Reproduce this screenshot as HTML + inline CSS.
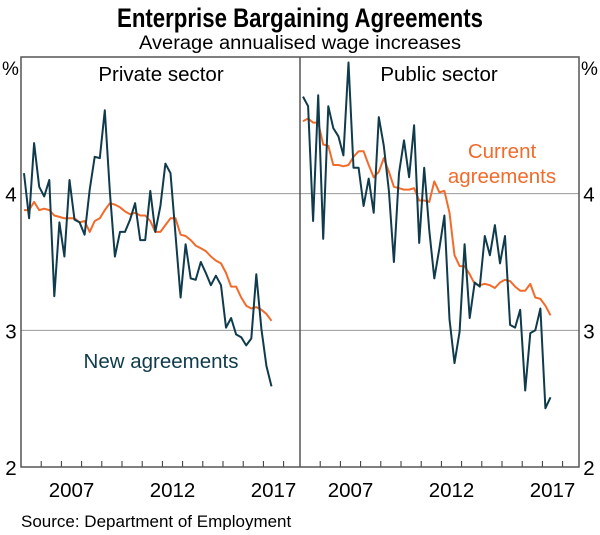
<!DOCTYPE html>
<html><head><meta charset="utf-8"><style>
body{margin:0;background:#fff;width:600px;height:530px;overflow:hidden;font-family:"Liberation Sans",sans-serif}
svg text{font-family:"Liberation Sans",sans-serif}
</style></head><body>
<svg id="chart" width="600" height="530">
<text x="300" y="27" text-anchor="middle" font-size="27" font-weight="bold" fill="#000" textLength="366" lengthAdjust="spacingAndGlyphs">Enterprise Bargaining Agreements</text>
<text x="300" y="49" text-anchor="middle" font-size="19" fill="#000" textLength="322" lengthAdjust="spacingAndGlyphs">Average annualised wage increases</text>
<text x="2" y="75" font-size="19">%</text>
<text x="581" y="75" font-size="19">%</text>
<g id="grid"></g>
<g id="ticks"></g>
<g id="series"></g>
<rect x="21" y="57" width="558" height="410" fill="none" stroke="#555" stroke-width="1.5"/>
<line x1="300" y1="57" x2="300" y2="467" stroke="#555" stroke-width="1.5"/>
<text x="161" y="81" text-anchor="middle" font-size="20.5">Private sector</text>
<text x="439" y="81" text-anchor="middle" font-size="20.5">Public sector</text>
<text x="161" y="368" text-anchor="middle" font-size="20.5" fill="#0f3b4c">New agreements</text>
<text x="502" y="158" text-anchor="middle" font-size="20.5" fill="#f26b2b">Current</text>
<text x="502" y="183" text-anchor="middle" font-size="20.5" fill="#f26b2b">agreements</text>
<text x="21" y="527" font-size="17">Source:   Department of Employment</text>
</svg>
<script>
const startYear = 2005.15;
const privateNew = [4.15,3.82,4.37,4.05,3.98,4.10,3.25,3.79,3.54,4.10,3.81,3.79,3.70,4.03,4.27,4.26,4.61,4.01,3.54,3.72,3.72,3.81,3.93,3.66,3.66,4.02,3.72,3.91,4.22,4.15,3.70,3.24,3.63,3.38,3.37,3.50,3.42,3.33,3.40,3.33,3.02,3.09,2.97,2.95,2.89,2.94,3.41,3.01,2.74,2.59];
const privateCurrent = [3.88,3.88,3.94,3.88,3.89,3.88,3.84,3.83,3.82,3.82,3.82,3.79,3.80,3.72,3.80,3.82,3.88,3.93,3.92,3.90,3.87,3.85,3.86,3.84,3.84,3.80,3.72,3.72,3.77,3.82,3.82,3.70,3.69,3.66,3.62,3.60,3.58,3.54,3.51,3.49,3.42,3.32,3.32,3.24,3.18,3.16,3.17,3.15,3.12,3.07];
const publicNew = [4.71,4.64,3.80,4.72,3.67,4.64,4.48,4.42,4.28,4.96,4.19,4.19,3.91,4.11,3.86,4.56,4.35,4.02,3.50,4.15,4.39,4.12,4.50,3.64,4.19,3.73,3.38,3.60,3.84,3.08,2.76,2.99,3.63,3.09,3.35,3.32,3.69,3.55,3.77,3.49,3.69,3.04,3.02,3.15,2.56,2.98,3.00,3.16,2.43,2.51];
const publicCurrent = [4.53,4.55,4.52,4.52,4.36,4.35,4.21,4.21,4.20,4.21,4.27,4.31,4.31,4.21,4.12,4.16,4.26,4.16,4.05,4.04,4.03,4.03,4.04,3.95,3.95,3.94,4.09,4.01,4.02,3.86,3.55,3.47,3.47,3.41,3.34,3.33,3.34,3.33,3.31,3.35,3.37,3.36,3.32,3.29,3.29,3.34,3.24,3.23,3.18,3.11];
const yTicks = [2,3,4];
const gridValues = [3,4];
const xTickYears = [2006,2007,2008,2009,2010,2011,2012,2013,2014,2015,2016,2017,2018];
const xLabelYears = [2007,2012,2017];

const NS = "http://www.w3.org/2000/svg";
function yScale(v){return 467 - (v-2)*136.67;}
function xScale(year, panelLeft){return panelLeft + (year-2005)*20.2;}
function mk(tag, attrs, parent){const e=document.createElementNS(NS,tag);for(const k in attrs)e.setAttribute(k,attrs[k]);parent.appendChild(e);return e;}
const grid=document.getElementById('grid'), ticks=document.getElementById('ticks'), series=document.getElementById('series');
gridValues.forEach(v=>{
  const l=mk('line',{x1:21,x2:579,y1:yScale(v),y2:yScale(v),stroke:'#9a9a9a','stroke-width':1},grid);
  
  
});
yTicks.forEach(v=>{
  const a=mk('text',{x:11,y:yScale(v)+8,'text-anchor':'middle','font-size':20.5},ticks);a.textContent=v;
  
  
  const b=mk('text',{x:589,y:yScale(v)+8,'text-anchor':'middle','font-size':20.5},ticks);b.textContent=v;
  
  
});
[21,300].forEach(p=>{
  xTickYears.forEach(y=>{
    const x=xScale(y,p); if(x>=p+278)return;
    const t=mk('line',{x1:x,x2:x,y1:467,y2:461,stroke:'#333','stroke-width':1},ticks);
    
    
  });
  xLabelYears.forEach(y=>{
    const t=mk('text',{x:xScale(y+0.5,p),y:497,'text-anchor':'middle','font-size':20.5},ticks);t.textContent=y;
    
    
  });
});
function drawLine(vals, panelLeft, color, name){
  const pts=vals.map((v,i)=>xScale(startYear+i*0.25,panelLeft).toFixed(1)+','+yScale(v).toFixed(1)).join(' ');
  const pl=mk('polyline',{points:pts,fill:'none',stroke:color,'stroke-width':2,'stroke-linejoin':'round'},series);
  
  
}
drawLine(privateCurrent,21,'#f26b2b','private-current-line');
drawLine(privateNew,21,'#0f3b4c','private-new-line');
drawLine(publicCurrent,300,'#f26b2b','public-current-line');
drawLine(publicNew,300,'#0f3b4c','public-new-line');
</script>
</body></html>
